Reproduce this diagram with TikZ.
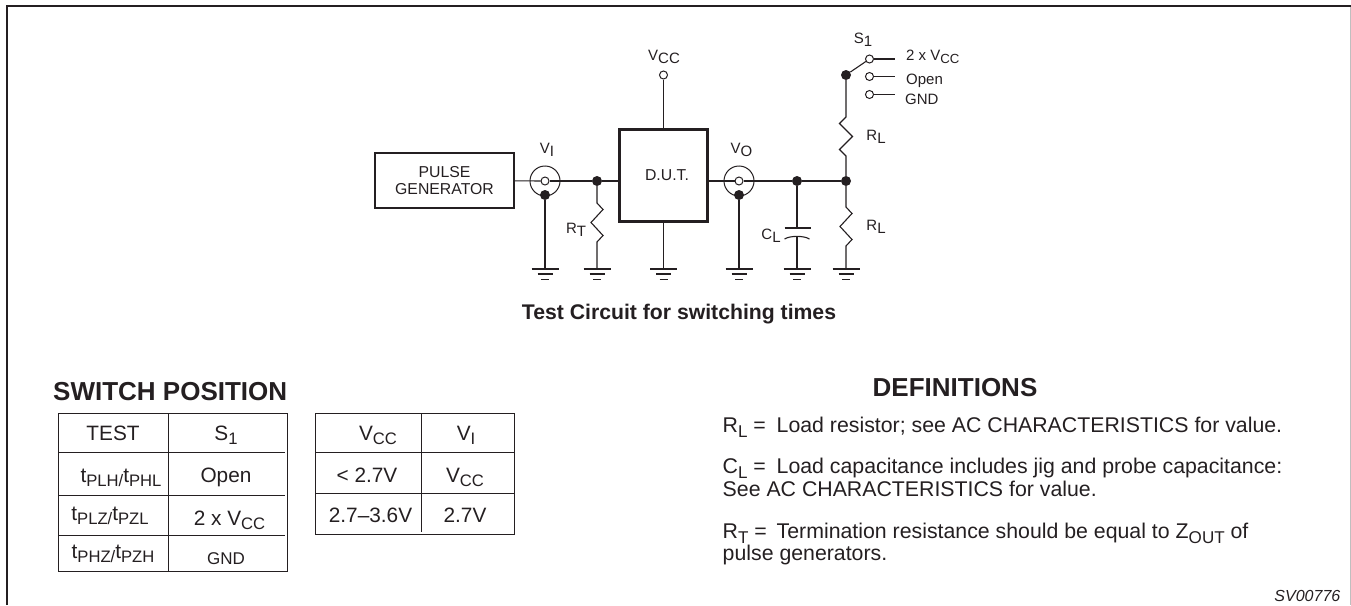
\documentclass[tikz,border=0pt]{standalone}
\usepackage{fontspec}
\usepackage{graphicx}
\setmainfont{Liberation Sans}
\usetikzlibrary{positioning}
\definecolor{inkc}{rgb}{0.14, 0.12, 0.13}
\newcommand{\lowsub}[1]{\raisebox{-0.26em}{#1}}
\newcommand{\smallsub}[1]{\smash{\raisebox{-0.24em}{\scalebox{0.8}{#1}}}}
\newcommand{\gndsym}[1]{\draw [wire,shift={(#1)}] (-13.5,0) -- (13.5,0) (-7.5,5) -- (7.5,5) (-4,10.5) -- (4,10.5);}
\tikzstyle{wire} = [line width=1.1pt,draw=inkc]
\tikzstyle{heavybox} = [draw=inkc,line width=2.2pt,inner sep=0pt,align=center,text=inkc,font=\fontsize{15.8}{17.5}\selectfont]
\tikzstyle{jdot} = [circle,minimum width=10pt,fill=inkc,inner sep=0pt]
\tikzstyle{hollow} = [circle,minimum width=8pt,draw=inkc,line width=1pt,inner sep=0pt]
\tikzstyle{coax} = [circle,minimum width=30pt,draw=inkc,line width=1pt,inner sep=0pt]
\tikzstyle{lab} = [inner sep=0pt,anchor=base,text=inkc,font=\fontsize{15}{17.5}\selectfont]
\tikzstyle{cell} = [inner sep=0pt,anchor=base,text=inkc,font=\fontsize{20.8}{23}\selectfont]
\tikzstyle{body} = [inner sep=0pt,text=inkc,anchor=base west,font=\fontsize{21.3}{24}\selectfont]
\tikzstyle{heading} = [inner sep=0pt,text=inkc,font=\fontsize{26}{30}\selectfont\bfseries]
\tikzstyle{grid} = [line width=0.9pt,draw=inkc]

\begin{document}
\begin{tikzpicture}[x=1pt,y=-1pt]
  \useasboundingbox (0,0) rectangle (1351,605);
  % frame
  \draw [line width=2.4pt,draw=inkc] (7,605) -- (7,6) -- (1351,6);
  \draw [line width=0.8pt,draw=black!25] (1350.5,7) -- (1350.5,605);

  % input side
  \node (pulse) [heavybox,minimum width=139pt,minimum height=55pt] at (444.5,180.5) {PULSE\\GENERATOR};
  \node (vi) [coax] at (545,181) {};
  \node (viin) [hollow] at (545,181) {};
  \node (vidot) [jdot] at (545,195) {};
  \node (rtdot) [jdot] at (597,181) {};
  \node (dut) [heavybox,minimum width=88pt,minimum height=92pt] at (663.5,175.5) {\hspace{7pt}D.U.T.};
  \node (vcc) [hollow] at (663.5,75) {};

  % output side
  \node (vo) [coax] at (739,181) {};
  \node (voin) [hollow] at (739,181) {};
  \node (vodot) [jdot] at (739,195) {};
  \node (cldot) [jdot] at (797,181) {};
  \node (rldot) [jdot] at (846,181) {};
  \node (swdot) [jdot] at (846,75) {};
  \node (swa) [hollow] at (869.5,59) {};
  \node (swb) [hollow] at (869.5,76.5) {};
  \node (swc) [hollow] at (869.5,94.5) {};
  \coordinate (swaend) at (895,59);
  \coordinate (swbend) at (895,76.5);
  \coordinate (swcend) at (895,94.5);

  \coordinate (g1) at (545,269);
  \coordinate (g2) at (597,269);
  \coordinate (g3) at (663.5,269);
  \coordinate (g4) at (739,269);
  \coordinate (g5) at (797,269);
  \coordinate (g6) at (846,269);
  \coordinate (rttop) at (597,203);
  \coordinate (rlatop) at (846,117);
  \coordinate (rlbtop) at (846,207);
  \coordinate (captop) at (797,228);
  \coordinate (capbot) at (797,236);

  \draw [wire] (pulse) -- (viin);
  \draw [wire] (viin) -- (rtdot);
  \draw [wire] (rtdot) -- (rtdot -| dut.west);
  \draw [wire] (vcc) -- (vcc |- dut.north);
  \draw [wire] (dut.south) -- (g3);
  \draw [wire] (vidot) -- (g1);
  \draw [wire] (vodot) -- (g4);
  \draw [wire] (voin -| dut.east) -- (voin);
  \draw [wire] (voin) -- (cldot);
  \draw [wire] (cldot) -- (rldot);
  \draw [wire] (swdot) -- (swa);
  \draw [wire] (swa) -- (swaend);
  \draw [wire] (swb) -- (swbend);
  \draw [wire] (swc) -- (swcend);

  % resistors
  \draw [wire] (rtdot) -- (rttop) -- ++(6,6.5) -- ++(-12,13) -- ++(12,13) -- ++(-6,6.5) -- (g2);
  \draw [wire] (swdot) -- (rlatop) -- ++(-6.5,6.5) -- ++(13,13) -- ++(-13,13) -- ++(6.5,6.5) -- (rldot);
  \draw [wire] (rldot) -- (rlbtop) -- ++(6,6.5) -- ++(-12,13) -- ++(12,13) -- ++(-6,6.5) -- (g6);

  % capacitor
  \draw [wire] (cldot) -- (captop);
  \draw [wire] (784.5,228) -- (810.5,228);
  \draw [wire] (784.5,239) .. controls (790,235.5) and (804,235.5) .. (809.5,239);
  \draw [wire] (capbot) -- (g5);

  \gndsym{g1}
  \gndsym{g2}
  \gndsym{g3}
  \gndsym{g4}
  \gndsym{g5}
  \gndsym{g6}

  % circuit labels
  \node (vilab) [lab] at (547,153) {V\lowsub{I}};
  \node (volab) [lab] at (741.5,153) {V\lowsub{O}};
  \node (vcclab) [lab] at (664,60) {V\lowsub{CC}};
  \node (rtlab) [lab] at (576,233) {R\lowsub{T}};
  \node (cllab) [lab] at (771,239) {C\lowsub{L}};
  \node (rlalab) [lab] at (876,140) {R\lowsub{L}};
  \node (rlblab) [lab] at (876,230) {R\lowsub{L}};
  \node (s1lab) [lab] at (863,43) {S\lowsub{1}};
  \node (swalab) [lab,anchor=base west] at (906,60) {2 x V\raisebox{-0.26em}{\scalebox{0.88}{CC}}};
  \node (swblab) [lab,anchor=base west] at (906,84) {Open};
  \node (swclab) [lab,anchor=base west] at (905,104) {GND};
  \node (caption) [inner sep=0pt,text=inkc,font=\fontsize{21.2}{24}\selectfont\bfseries] at (679,314) {Test Circuit for switching times};

  % switch position
  \node (swhead) [heading,anchor=west] at (53,392) {SWITCH POSITION};
  \draw [grid] (58.6,413.3) rectangle (287.5,571);
  \draw [grid] (168.8,413.3) -- (168.8,571);
  \draw [grid] (58.6,452) -- (285,452);
  \draw [grid] (58.6,495) -- (285,495);
  \draw [grid] (58.6,535.3) -- (285,535.3);
  \node (ctest) [cell] at (113,440) {TEST};
  \node (cs1) [cell] at (226,440) {S\smallsub{1}};
  \node (ca) [cell] at (121,482) {t\smallsub{PLH/}t\smallsub{PHL}};
  \node (copen) [cell] at (226,482) {Open};
  \node (cb) [cell] at (110,520) {t\smallsub{PLZ/}t\smallsub{PZL}};
  \node (c2x) [cell] at (229.5,525) {2 x V\smallsub{CC}};
  \node (cc) [cell] at (113,558) {t\smallsub{PHZ/}t\smallsub{PZH}};
  \node (cgnd) [lab,font=\fontsize{17}{19}\selectfont] at (226,564) {GND};

  \draw [grid] (315.6,413.3) rectangle (514,534);
  \draw [grid] (421,413.3) -- (421,531.5);
  \draw [grid] (315.6,452) -- (514,452);
  \draw [grid] (315.6,493.3) -- (514,493.3);
  \node (dvcc) [cell] at (378,440) {V\smallsub{CC}};
  \node (dvi) [cell] at (466,440) {V\smallsub{I}};
  \node (dlow) [cell] at (367,482) {< 2.7V};
  \node (dvcc2) [cell] at (465,482) {V\smallsub{CC}};
  \node (drange) [cell] at (370.5,522) {2.7--3.6V};
  \node (dval) [cell] at (465,522) {2.7V};

  % definitions
  \node (defhead) [heading] at (955,388) {DEFINITIONS};
  \node (defr) [body] at (722.5,432) {\makebox[54pt][l]{R\smallsub{L} =}Load resistor; see AC CHARACTERISTICS for value.};
  \node (defc) [body] at (722.5,473) {\makebox[54pt][l]{C\smallsub{L} =}Load capacitance includes jig and probe capacitance:};
  \node (defcb) [body] at (722.5,496.5) {See AC CHARACTERISTICS for value.};
  \node (deft) [body] at (722.5,538) {\makebox[54pt][l]{R\smallsub{T} =}Termination resistance should be equal to Z\smallsub{OUT} of};
  \node (deftb) [body] at (722.5,560.5) {pulse generators.};
  \node (code) [inner sep=0pt,text=inkc,anchor=east,font=\fontsize{16}{18}\selectfont\itshape] at (1340.5,596) {SV00776};
\end{tikzpicture}
\end{document}
